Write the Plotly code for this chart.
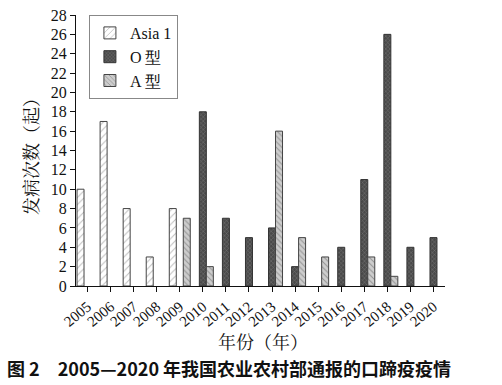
import plotly.graph_objects as go

years = [str(y) for y in range(2005, 2021)]
asia1 = [10, 17, 8, 3, 8, None, None, None, None, None, None, None, None, None, None, None]
o_type = [None, None, None, None, None, 18, 7, 5, 6, 2, None, 4, 11, 26, 4, 5]
a_type = [None, None, None, None, 7, 2, None, None, 16, 5, 3, None, 3, 1, None, None]
y_ticks = list(range(0, 29, 2))

W, H = 502, 385
L, R, T, B = 76, 57, 15, 99
PW, PH = W - L - R, H - T - B

serif = "Liberation Serif"
cjk_serif = "Noto Serif CJK SC, Noto Sans CJK SC, serif"

fig = go.Figure()
fig.add_trace(go.Bar(
    x=years, y=asia1, name="Asia 1",
    marker=dict(line=dict(color="#444", width=1),
                pattern=dict(shape="/", fgcolor="#7a7a7a", bgcolor="white", size=5, solidity=0.2)),
))
fig.add_trace(go.Bar(
    x=years, y=o_type, name="O 型",
    marker=dict(line=dict(color="#333", width=1),
                pattern=dict(shape="x", fgcolor="#a0a0a0", bgcolor="#4a4a4a", size=3, solidity=0.3)),
))
fig.add_trace(go.Bar(
    x=years, y=a_type, name="A 型",
    marker=dict(line=dict(color="#444", width=1),
                pattern=dict(shape="\\", fgcolor="#5a5a5a", bgcolor="#cdcdcd", size=4, solidity=0.25)),
))

fig.update_layout(
    width=W, height=H,
    margin=dict(l=L, r=R, t=T, b=B, autoexpand=False),
    paper_bgcolor="white", plot_bgcolor="white",
    barmode="group", bargap=0.09, bargroupgap=0,
    font=dict(family=serif, size=16, color="#111"),
    showlegend=True,
    legend=dict(x=0.035, y=1.0, xanchor="left", yanchor="top",
                bordercolor="#888", borderwidth=1, bgcolor="white",
                font=dict(family=serif, size=16), tracegroupgap=0,
                itemwidth=30),
    xaxis=dict(type="category", showline=True, linecolor="#111", linewidth=1.2,
               ticks="outside", ticklen=5, tickcolor="#111", tickangle=-40,
               tickfont=dict(family=serif, size=15), showgrid=False, zeroline=False,
               automargin=False),
    yaxis=dict(range=[0, 28], tickvals=y_ticks, showline=True, linecolor="#111", linewidth=1.2,
               ticks="outside", ticklen=5, tickcolor="#111",
               tickfont=dict(family=serif, size=16), showgrid=False, zeroline=False,
               automargin=False),
)

fig.add_annotation(text="发病次数（起）", xref="paper", yref="paper",
                   x=(30 - L) / PW, y=(T + PH - 152) / PH,
                   xanchor="center", yanchor="middle",
                   showarrow=False, textangle=-90,
                   font=dict(family=cjk_serif, size=18, color="#111"))
fig.add_annotation(text="年份（年）", xref="paper", yref="paper",
                   x=(263 - L) / PW, y=-(341 - T - PH) / PH,
                   xanchor="center", yanchor="middle",
                   showarrow=False,
                   font=dict(family=cjk_serif, size=18, color="#111"))
fig.add_annotation(text="<b>图 2　2005—2020 年我国农业农村部通报的口蹄疫疫情</b>",
                   xref="paper", yref="paper",
                   x=(5 - L) / PW, y=-(368 - T - PH) / PH,
                   xanchor="left", yanchor="middle", showarrow=False,
                   font=dict(family="Noto Sans CJK SC, sans-serif", size=18, color="#111"))

fig.write_html("out.html", config={"displayModeBar": False},
               post_script="document.body.style.margin='0';")
